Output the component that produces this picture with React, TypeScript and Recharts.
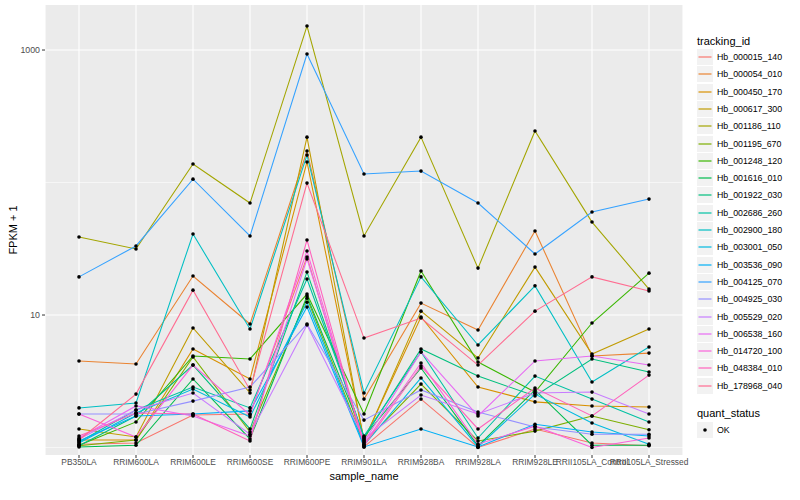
import React from 'react';
import { LineChart, Line, XAxis, YAxis, CartesianGrid } from 'recharts';

const samples = [
  'PB350LA', 'RRIM600LA', 'RRIM600LE', 'RRIM600SE', 'RRIM600PE', 'RRIM901LA',
  'RRIM928BA', 'RRIM928LA', 'RRIM928LE', 'RRII105LA_Control', 'RRII105LA_Stressed',
];

// FPKM + 1, one value per sample
const hb000015_140 = [1.06, 1.08, 1.76, 1.79, 27.4, 1.01, 2.32, 1.0, 1.38, 1.08, 1.03];
const hb000054_010 = [4.5, 4.27, 19.7, 8.55, 173, 2.32, 12.3, 7.7, 43.1, 4.91, 5.16];
const hb000450_170 = [1.14, 1.14, 5.54, 3.29, 143, 1.14, 9.66, 2.86, 2.21, 2.06, 2.02];
const hb000617_300 = [1.38, 1.2, 7.98, 2.58, 220, 1.12, 10.7, 4.74, 23.0, 5.08, 7.84];
const hb001186_110 = [38.8, 31.5, 138, 70, 1518, 39.5, 220, 22.6, 245, 50.3, 15.7];
const hb001195_670 = [1.03, 1.14, 4.82, 1.31, 13.4, 1.08, 3.01, 1.12, 1.33, 1.73, 1.36];
const hb001248_120 = [1.04, 1.56, 4.91, 4.66, 14.4, 1.79, 21.5, 4.42, 2.62, 8.7, 20.7];
const hb001616_010 = [1.01, 1.04, 3.29, 1.16, 13.9, 1.2, 3.98, 1.03, 2.72, 1.04, 1.04];
const hb001922_030 = [1.03, 1.73, 4.19, 1.38, 21.1, 1.18, 5.54, 3.46, 2.45, 4.66, 3.71];
const hb002686_260 = [1.1, 1.92, 2.86, 1.99, 18.7, 1.22, 5.26, 1.18, 3.46, 2.32, 1.56];
const hb002900_180 = [1.99, 2.17, 40.9, 7.84, 161, 2.58, 19.4, 5.94, 16.6, 3.12, 5.73];
const hb003001_050 = [1.08, 1.82, 2.76, 1.7, 12.5, 1.04, 3.35, 1.01, 2.53, 1.53, 1.06];
const hb003536_090 = [1.12, 1.73, 1.79, 1.89, 11.5, 1.01, 1.38, 1.01, 1.5, 1.31, 1.22];
const hb004125_070 = [19.4, 33.2, 106, 39.5, 933, 116, 122, 70, 28.9, 59.9, 75];
const hb004925_030 = [1.79, 1.79, 2.24, 2.86, 8.55, 1.61, 2.72, 1.85, 1.43, 1.26, 1.26];
const hb005529_020 = [1.16, 1.92, 2.58, 1.26, 8.41, 1.16, 2.49, 1.79, 2.58, 2.62, 1.79];
const hb006538_160 = [1.18, 2.06, 1.73, 1.22, 26.5, 1.1, 5.26, 1.73, 4.5, 4.91, 4.19];
const hb014720_100 = [1.79, 1.2, 4.19, 1.76, 30.4, 1.06, 4.34, 1.06, 1.45, 1.0, 1.18];
const hb048384_010 = [1.22, 1.82, 1.79, 1.12, 36.8, 1.03, 4.12, 1.38, 2.81, 1.73, 3.52];
const hb178968_040 = [1.14, 2.53, 15.4, 2.72, 99, 6.7, 9.49, 4.19, 10.7, 19.4, 15.2];

const series = [
  { id: 'Hb_000015_140', color: '#F8766D', values: hb000015_140 },
  { id: 'Hb_000054_010', color: '#EA8331', values: hb000054_010 },
  { id: 'Hb_000450_170', color: '#D89000', values: hb000450_170 },
  { id: 'Hb_000617_300', color: '#C09B00', values: hb000617_300 },
  { id: 'Hb_001186_110', color: '#A3A500', values: hb001186_110 },
  { id: 'Hb_001195_670', color: '#7CAE00', values: hb001195_670 },
  { id: 'Hb_001248_120', color: '#39B600', values: hb001248_120 },
  { id: 'Hb_001616_010', color: '#00BB4E', values: hb001616_010 },
  { id: 'Hb_001922_030', color: '#00BF7D', values: hb001922_030 },
  { id: 'Hb_002686_260', color: '#00C1A3', values: hb002686_260 },
  { id: 'Hb_002900_180', color: '#00BFC4', values: hb002900_180 },
  { id: 'Hb_003001_050', color: '#00BAE0', values: hb003001_050 },
  { id: 'Hb_003536_090', color: '#00B0F6', values: hb003536_090 },
  { id: 'Hb_004125_070', color: '#35A2FF', values: hb004125_070 },
  { id: 'Hb_004925_030', color: '#9590FF', values: hb004925_030 },
  { id: 'Hb_005529_020', color: '#C77CFF', values: hb005529_020 },
  { id: 'Hb_006538_160', color: '#E76BF3', values: hb006538_160 },
  { id: 'Hb_014720_100', color: '#FA62DB', values: hb014720_100 },
  { id: 'Hb_048384_010', color: '#FF62BC', values: hb048384_010 },
  { id: 'Hb_178968_040', color: '#FF6C91', values: hb178968_040 },
];

const yTicks = [10, 1000];
const yMinor = [1, 100];

const data = samples.map((s, i) => {
  const row: Record<string, string | number> = { sample_name: s };
  series.forEach((sr) => { row[sr.id] = sr.values[i]; });
  return row;
});

const font = '"Liberation Sans", Arial, Helvetica, sans-serif';
const tickStyle = { fontSize: 8.8, fill: '#4D4D4D', fontFamily: font };
const xTickStyle = { fontSize: 8.4, fill: '#4D4D4D', fontFamily: font };

const blackDot = (p: any) => (
  <circle key={`d-${p.dataKey}-${p.index}`} cx={p.cx} cy={p.cy} r={1.8} fill="#000" />
);

export default function App() {
  return (
    <div style={{ position: 'absolute', left: 0, top: 0, width: 800, height: 500, background: '#fff', fontFamily: font }}>
      <LineChart width={800} height={500} data={data} margin={{ top: 5, right: 117, bottom: 0, left: 0 }}>
        <CartesianGrid fill="#EBEBEB" stroke="#FFFFFF" strokeWidth={0.55} horizontalValues={yMinor} vertical={false} />
        <CartesianGrid stroke="#FFFFFF" strokeWidth={1.1} horizontalValues={yTicks} />
        <XAxis
          dataKey="sample_name"
          interval={0}
          padding={{ left: 34, right: 34 }}
          height={45}
          axisLine={false}
          tickSize={3}
          tickMargin={1}
          tickLine={{ stroke: '#333333' }}
          tick={xTickStyle}
        />
        <YAxis
          scale="log"
          domain={[0.878, 2187]}
          allowDataOverflow
          ticks={yTicks}
          width={45}
          axisLine={false}
          tickSize={3}
          tickMargin={2}
          tickLine={{ stroke: '#333333' }}
          tick={tickStyle}
        />
        {series.map((sr) => (
          <Line
            key={sr.id}
            dataKey={sr.id}
            stroke={sr.color}
            strokeWidth={1.07}
            type="linear"
            dot={false}
            activeDot={false}
            isAnimationActive={false}
          />
        ))}
        {series.map((sr) => (
          <Line
            key={`pts-${sr.id}`}
            dataKey={sr.id}
            stroke="none"
            type="linear"
            dot={blackDot}
            activeDot={false}
            legendType="none"
            isAnimationActive={false}
          />
        ))}
      </LineChart>

      <div style={{ position: 'absolute', left: 0, width: 728, top: 469, textAlign: 'center', fontSize: 11, lineHeight: '14px', color: '#000' }}>
        sample_name
      </div>
      <div style={{ position: 'absolute', left: -37, top: 223, width: 100, height: 14, textAlign: 'center', fontSize: 11, lineHeight: '14px', color: '#000', transform: 'rotate(-90deg)' }}>
        FPKM + 1
      </div>

      <div style={{ position: 'absolute', left: 697, top: 34, fontSize: 11, lineHeight: '14px', color: '#000' }}>tracking_id</div>
      {series.map((sr, i) => (
        <div key={`lg-${sr.id}`} style={{ position: 'absolute', left: 697, top: Math.round(48 + i * 17.3), height: 17, display: 'flex', alignItems: 'center' }}>
          <svg width={16} height={16} style={{ display: 'block' }}>
            <rect x={0} y={0} width={16} height={16} fill="#F2F2F2" />
            <line x1={1.5} x2={14.5} y1={8} y2={8} stroke={sr.color} strokeWidth={1.2} />
          </svg>
          <span style={{ marginLeft: 4, fontSize: 8.8, color: '#000' }}>{sr.id}</span>
        </div>
      ))}

      <div style={{ position: 'absolute', left: 697, top: 406, fontSize: 11, lineHeight: '14px', color: '#000' }}>quant_status</div>
      <div style={{ position: 'absolute', left: 697, top: 421, height: 17, display: 'flex', alignItems: 'center' }}>
        <svg width={16} height={16} style={{ display: 'block' }}>
          <rect x={0} y={0} width={16} height={16} fill="#F2F2F2" />
          <circle cx={8} cy={8} r={1.8} fill="#000" />
        </svg>
        <span style={{ marginLeft: 4, fontSize: 8.8, color: '#000' }}>OK</span>
      </div>
    </div>
  );
}
